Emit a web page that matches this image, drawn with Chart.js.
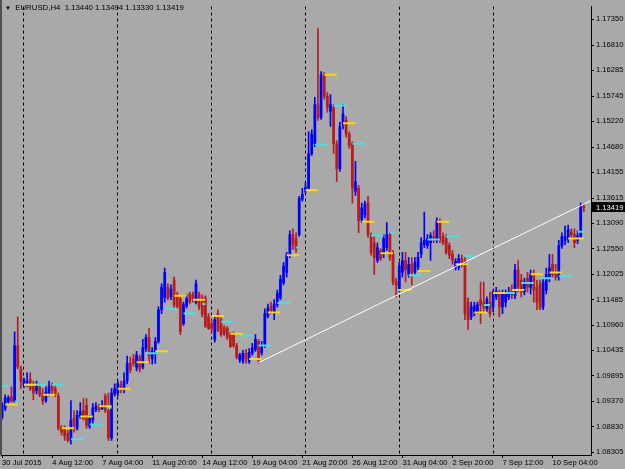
<!DOCTYPE html>
<html><head><meta charset="utf-8">
<script src="https://cdn.jsdelivr.net/npm/chart.js@4.4.1/dist/chart.umd.min.js"></script>
<style>
html,body{margin:0;padding:0;background:#a9a9a9;}
#wrap{position:relative;width:625px;height:469px;overflow:hidden;}
#title{position:absolute;left:5px;top:3px;font:7.8px "Liberation Sans",Arial,sans-serif;color:#000;white-space:pre;line-height:9px;}
#title .tri{font-size:6px;}
</style></head><body>
<div id="wrap"><canvas id="c" width="625" height="469"></canvas>
<div id="title"></div></div>
<script>
const symbol = "EURUSD";
const timeframe = "H4";
const opens = [1.0903,1.0921,1.0936,1.0946,1.0936,1.1053,1.1004,1.0969,1.0971,1.0983,
1.0973,1.0959,1.0965,1.0952,1.0938,1.0952,1.0969,1.0963,1.0948,1.0882,
1.0878,1.0870,1.0855,1.0901,1.0880,1.0905,1.0917,1.0928,1.0884,1.0897,
1.0919,1.0926,1.0921,1.0948,1.0917,1.0860,1.0952,1.0954,1.0971,1.0963,
1.0979,1.1016,1.1025,1.1008,1.1029,1.1008,1.1047,1.1070,1.1025,1.1037,
1.1062,1.1128,1.1153,1.1175,1.1155,1.1190,1.1159,1.1151,1.1099,1.1136,
1.1161,1.1159,1.1144,1.1159,1.1153,1.1153,1.1113,1.1099,1.1066,1.1120,
1.1107,1.1091,1.1089,1.1076,1.1076,1.1053,1.1023,1.1020,1.1037,1.1020,
1.1037,1.1045,1.1062,1.1037,1.1053,1.1115,1.1136,1.1120,1.1138,1.1153,
1.1184,1.1206,1.1242,1.1285,1.1277,1.1285,1.1359,1.1376,1.1382,1.1454,
1.1475,1.1557,1.1530,1.1619,1.1574,1.1543,1.1551,1.1475,1.1423,1.1516,
1.1524,1.1495,1.1475,1.1376,1.1382,1.1316,1.1326,1.1351,1.1283,1.1268,
1.1231,1.1252,1.1244,1.1258,1.1285,1.1244,1.1188,1.1171,1.1206,1.1231,
1.1202,1.1223,1.1206,1.1217,1.1244,1.1264,1.1262,1.1268,1.1281,1.1273,
1.1310,1.1281,1.1277,1.1262,1.1244,1.1217,1.1217,1.1235,1.1231,1.1144,
1.1113,1.1124,1.1124,1.1149,1.1144,1.1130,1.1144,1.1134,1.1155,1.1161,
1.1134,1.1144,1.1155,1.1171,1.1157,1.1211,1.1190,1.1165,1.1194,1.1175,
1.1202,1.1175,1.1182,1.1134,1.1169,1.1196,1.1223,1.1202,1.1196,1.1262,
1.1273,1.1275,1.1291,1.1285,1.1273,1.1281,1.13440];
const highs = [1.0934,1.0950,1.0948,1.0967,1.1082,1.1113,1.1010,1.0985,1.0996,1.0996,
1.0979,1.0979,1.0973,1.0963,1.0967,1.0979,1.0975,1.0969,1.0954,1.0886,
1.0886,1.0876,1.0938,1.0917,1.0917,1.0934,1.0942,1.0942,1.0907,1.0932,
1.0934,1.0930,1.0938,1.0952,1.0954,1.0963,1.0973,1.0979,1.0979,1.0996,
1.1031,1.1029,1.1035,1.1041,1.1033,1.1066,1.1076,1.1089,1.1049,1.1070,
1.1134,1.1182,1.1215,1.1182,1.1180,1.1196,1.1165,1.1155,1.1144,1.1159,
1.1165,1.1165,1.1190,1.1165,1.1159,1.1157,1.1120,1.1107,1.1113,1.1128,
1.1111,1.1095,1.1093,1.1080,1.1082,1.1058,1.1037,1.1043,1.1045,1.1047,
1.1058,1.1076,1.1066,1.1062,1.1130,1.1140,1.1144,1.1149,1.1169,1.1200,
1.1227,1.1248,1.1293,1.1297,1.1289,1.1365,1.1382,1.1392,1.1500,1.1504,
1.1572,1.1716,1.1626,1.1624,1.1582,1.1578,1.1557,1.1481,1.1520,1.1557,
1.1532,1.1500,1.1479,1.1438,1.1388,1.1351,1.1355,1.1365,1.1289,1.1283,
1.1268,1.1256,1.1285,1.1310,1.1289,1.1252,1.1194,1.1227,1.1248,1.1248,
1.1237,1.1237,1.1237,1.1248,1.1279,1.1332,1.1285,1.1289,1.1293,1.1320,
1.1318,1.1289,1.1285,1.1268,1.1252,1.1235,1.1244,1.1242,1.1237,1.1153,
1.1144,1.1144,1.1144,1.1186,1.1186,1.1155,1.1165,1.1169,1.1175,1.1169,
1.1169,1.1169,1.1175,1.1180,1.1223,1.1231,1.1202,1.1194,1.1206,1.1211,
1.1211,1.1190,1.1190,1.1194,1.1215,1.1244,1.1244,1.1223,1.1273,1.1289,
1.1303,1.1305,1.1297,1.1297,1.1293,1.1351,1.13494];
const lows = [1.0899,1.0917,1.0930,1.0934,1.0934,1.1004,1.0963,1.0965,1.0967,1.0959,
1.0940,1.0952,1.0946,1.0930,1.0934,1.0948,1.0952,1.0946,1.0876,1.0866,
1.0855,1.0851,1.0847,1.0872,1.0876,1.0901,1.0897,1.0880,1.0880,1.0890,
1.0915,1.0915,1.0919,1.0913,1.0855,1.0855,1.0948,1.0948,1.0954,1.0954,
1.0973,1.0996,1.1010,1.1000,1.0998,1.1004,1.1041,1.1016,1.1014,1.1016,
1.1058,1.1120,1.1144,1.1149,1.1149,1.1132,1.1130,1.1076,1.1095,1.1132,
1.1140,1.1144,1.1140,1.1128,1.1113,1.1091,1.1087,1.1082,1.1060,1.1082,
1.1072,1.1074,1.1066,1.1049,1.1049,1.1025,1.1018,1.1016,1.1016,1.1016,
1.1033,1.1041,1.1016,1.1033,1.1049,1.1111,1.1120,1.1107,1.1134,1.1149,
1.1180,1.1196,1.1237,1.1254,1.1248,1.1281,1.1355,1.1372,1.1380,1.1450,
1.1469,1.1524,1.1526,1.1568,1.1541,1.1511,1.1454,1.1396,1.1417,1.1506,
1.1489,1.1465,1.1351,1.1367,1.1289,1.1310,1.1320,1.1279,1.1242,1.1202,
1.1227,1.1231,1.1237,1.1252,1.1231,1.1180,1.1155,1.1165,1.1196,1.1186,
1.1196,1.1180,1.1200,1.1211,1.1237,1.1258,1.1256,1.1231,1.1268,1.1268,
1.1268,1.1264,1.1244,1.1235,1.1223,1.1211,1.1211,1.1217,1.1107,1.1087,
1.1107,1.1115,1.1120,1.1099,1.1124,1.1124,1.1113,1.1124,1.1149,1.1113,
1.1120,1.1134,1.1149,1.1151,1.1151,1.1165,1.1155,1.1159,1.1165,1.1161,
1.1144,1.1128,1.1128,1.1128,1.1161,1.1186,1.1196,1.1190,1.1190,1.1256,
1.1264,1.1268,1.1277,1.1258,1.1266,1.1277,1.13330];
const closes = [1.0930,1.0944,1.0944,1.0938,1.1053,1.1008,1.0979,1.0981,1.0979,1.0963,
1.0954,1.0969,1.0950,1.0938,1.0956,1.0969,1.0959,1.0952,1.0880,1.0872,
1.0864,1.0855,1.0897,1.0886,1.0907,1.0915,1.0901,1.0886,1.0901,1.0923,
1.0926,1.0919,1.0928,1.0917,1.0860,1.0954,1.0963,1.0973,1.0963,1.0979,
1.1016,1.1002,1.1016,1.1033,1.1004,1.1049,1.1070,1.1031,1.1041,1.1062,
1.1128,1.1175,1.1206,1.1153,1.1171,1.1138,1.1134,1.1082,1.1138,1.1151,
1.1144,1.1149,1.1182,1.1134,1.1118,1.1093,1.1089,1.1089,1.1107,1.1087,
1.1076,1.1078,1.1070,1.1051,1.1053,1.1029,1.1033,1.1037,1.1025,1.1039,
1.1049,1.1066,1.1025,1.1053,1.1120,1.1132,1.1126,1.1140,1.1163,1.1192,
1.1219,1.1242,1.1285,1.1264,1.1254,1.1361,1.1369,1.1384,1.1454,1.1495,
1.1557,1.1530,1.1619,1.1574,1.1551,1.1557,1.1475,1.1423,1.1511,1.1537,
1.1495,1.1471,1.1382,1.1396,1.1314,1.1341,1.1349,1.1285,1.1248,1.1237,
1.1258,1.1235,1.1277,1.1285,1.1237,1.1186,1.1180,1.1219,1.1231,1.1211,
1.1223,1.1206,1.1227,1.1237,1.1268,1.1273,1.1277,1.1283,1.1273,1.1314,
1.1273,1.1268,1.1248,1.1242,1.1231,1.1229,1.1235,1.1223,1.1120,1.1107,
1.1134,1.1136,1.1138,1.1138,1.1134,1.1149,1.1120,1.1165,1.1167,1.1134,
1.1161,1.1161,1.1165,1.1159,1.1211,1.1175,1.1165,1.1186,1.1175,1.1202,
1.1169,1.1144,1.1132,1.1186,1.1202,1.1215,1.1202,1.1196,1.1262,1.1281,
1.1281,1.1295,1.1285,1.1268,1.1283,1.1345,1.13419];

// time axis labels (bar index -> label)
const xTickBars = [0,16,32,48,64,80,96,112,128,144,160,176];
const xTickLabels = ["30 Jul 2015","4 Aug 12:00","7 Aug 04:00","11 Aug 20:00","14 Aug 12:00","19 Aug 04:00","21 Aug 20:00","26 Aug 12:00","31 Aug 04:00","2 Sep 20:00","7 Sep 12:00","10 Sep 04:00"];
// weekly period separators (bar index of Monday 00:00)
const weekStarts = [7,37,67,97,127,157];
// price axis labels
const yTicks = [1.17350,1.16810,1.16285,1.15745,1.15220,1.14680,1.14155,1.13615,1.13090,1.12550,1.12025,1.11485,1.10960,1.10435,1.09895,1.09370,1.08830,1.08305];

// yellow indicator levels
const yellowStart = [1,7,13,19,25,31,37,43,49,55,61,67,73,79,85,91,97,103,109,115,121,127,133,139,145,151,157,163,169,175,181];
const yellowEnd   = [5,11,17,23,29,35,41,47,53,59,65,71,77,83,89,95,101,107,113,119,125,131,137,143,149,155,161,167,173,179,186];
const yellowLevel = [1.0930,1.0971,1.0950,1.0880,1.0905,1.0926,1.0963,1.1018,1.1041,1.1157,1.1149,1.1115,1.1078,1.1025,1.1122,1.1242,1.1378,1.1619,1.1518,1.1312,1.1246,1.1169,1.1209,1.1312,1.1223,1.1122,1.1163,1.1169,1.1202,1.1206,1.1277];
// cyan indicator levels
const cyanStart = [0,4,7,16,22,28,33.5,46,52,58,64,70,76,82,88,94,100,106,112,118,124,126.5,130,136,142,148,154,159,166,172,178,184];
const cyanEnd   = [2,5,14,20,26,32,35,50,56,62,65,74,80,86,92,95,104,110,116,122,125.5,128,134,140,146,152,156,164,170,176,182,186];
const cyanLevel = [1.0969,1.0936,1.0971,1.0971,1.0857,1.0888,1.0923,1.1037,1.1130,1.1120,1.1140,1.1103,1.1074,1.1053,1.1142,1.1258,1.1473,1.1555,1.1475,1.1283,1.1289,1.1169,1.1200,1.1275,1.1281,1.1240,1.1138,1.1163,1.1184,1.1194,1.1198,1.1291];
// white trend line (bar index, price)
const trendBars = [81.9, 188.3];
const trendPrices = [1.1017, 1.1356];

const X_MIN = -0.35, X_MAX = 188.3, Y_MIN = 1.08243, Y_MAX = 1.17618;
const FONT = {family: '"Liberation Sans", Arial, sans-serif', size: 7.6};
const UP = '#0000FF', DOWN = '#B81C1C';

const n = closes.length;
const last = n - 1;
document.getElementById('title').innerHTML = '<span class="tri">\u25BC</span>  ' + symbol + ',' + timeframe + '  ' +
  [opens[last], highs[last], lows[last], closes[last]].map(v => v.toFixed(5)).join(' ');

const idx = closes.map((_, i) => i);
const colors = idx.map(i => closes[i] >= opens[i] ? UP : DOWN);
function segData(s, e, lv) {
  const out = [];
  for (let k = 0; k < s.length; k++) {
    out.push({x: s[k], y: lv[k]}, {x: e[k], y: lv[k]}, {x: e[k], y: null});
  }
  return out;
}

const frame = {
  id: 'frame',
  afterDraw(chart) {
    const ctx = chart.ctx, a = chart.chartArea;
    ctx.save();
    ctx.fillStyle = '#505050';
    ctx.fillRect(0, 0, 2, a.bottom);
    const ys = chart.scales.y;
    const py = Math.round(ys.getPixelForValue(closes[last]));
    ctx.fillStyle = '#000';
    ctx.fillRect(a.right + 1, py - 5, 34, 10);
    ctx.fillStyle = '#fff';
    ctx.font = '7.6px "Liberation Sans", Arial, sans-serif';
    ctx.textBaseline = 'middle';
    ctx.fillText(closes[last].toFixed(5), a.right + 5, py + 0.5);
    ctx.restore();
  }
};

new Chart(document.getElementById('c'), {
  type: 'bar',
  data: {
    datasets: [
      {type: 'bar', label: 'wick', data: idx.map(i => ({x: i, y: [lows[i], highs[i]]})), backgroundColor: colors,
        barThickness: 1, grouped: false, order: 5, xAxisID: 'x', yAxisID: 'y'},
      {type: 'bar', label: 'body', data: idx.map(i => ({x: i, y: [opens[i], closes[i]]})), backgroundColor: colors,
        barThickness: 2.1, minBarLength: 1, grouped: false, order: 4, xAxisID: 'x', yAxisID: 'y'},
      {type: 'line', label: 'cyan', data: segData(cyanStart, cyanEnd, cyanLevel), borderColor: '#46E2E2', borderWidth: 2,
        pointRadius: 0, spanGaps: false, order: 3, xAxisID: 'x', yAxisID: 'y'},
      {type: 'line', label: 'yellow', data: segData(yellowStart, yellowEnd, yellowLevel), borderColor: '#FFD700', borderWidth: 2,
        pointRadius: 0, spanGaps: false, order: 2, xAxisID: 'x', yAxisID: 'y'},
      {type: 'line', label: 'trend', data: trendBars.map((b, k) => ({x: b, y: trendPrices[k]})), borderColor: '#FFFFFF', borderWidth: 1,
        pointRadius: 0, order: 1, xAxisID: 'x', yAxisID: 'y'}
    ]
  },
  options: {
    responsive: false, animation: false, devicePixelRatio: 1,
    layout: {padding: {left: 1, top: 1, right: 0, bottom: 0}},
    plugins: {legend: {display: false}, tooltip: {enabled: false}, title: {display: false}},
    scales: {
      x: {type: 'linear', position: 'bottom', min: X_MIN, max: X_MAX, offset: false,
        afterBuildTicks: s => { s.ticks = xTickBars.map(v => ({value: v})); },
        afterFit: s => { s.height = 14; },
        ticks: {autoSkip: false, maxRotation: 0, minRotation: 0, align: 'start', padding: 0, color: '#000', font: FONT,
          callback: v => { const k = xTickBars.indexOf(v); return k >= 0 ? xTickLabels[k] : ''; }},
        grid: {drawOnChartArea: false, drawTicks: true, tickLength: 3, color: '#000', offset: false},
        border: {display: true, color: '#000', width: 1}},
      sep: {type: 'linear', position: 'bottom', min: X_MIN, max: X_MAX, offset: false,
        afterBuildTicks: s => { s.ticks = weekStarts.map(v => ({value: v})); },
        afterFit: s => { s.height = 0; },
        ticks: {display: false},
        grid: {drawOnChartArea: true, drawTicks: false, color: '#000', lineWidth: 1, offset: false},
        border: {display: false, dash: [3, 3]}},
      y: {type: 'linear', position: 'right', min: Y_MIN, max: Y_MAX,
        afterBuildTicks: s => { s.ticks = yTicks.map(v => ({value: v})); },
        afterFit: s => { s.width = 34; },
        ticks: {autoSkip: false, padding: 2, color: '#000', font: FONT, callback: v => Number(v).toFixed(5)},
        grid: {drawOnChartArea: false, tickLength: 3, color: '#000'},
        border: {display: true, color: '#000', width: 1}}
    }
  },
  plugins: [frame]
});
</script>
</body></html>
